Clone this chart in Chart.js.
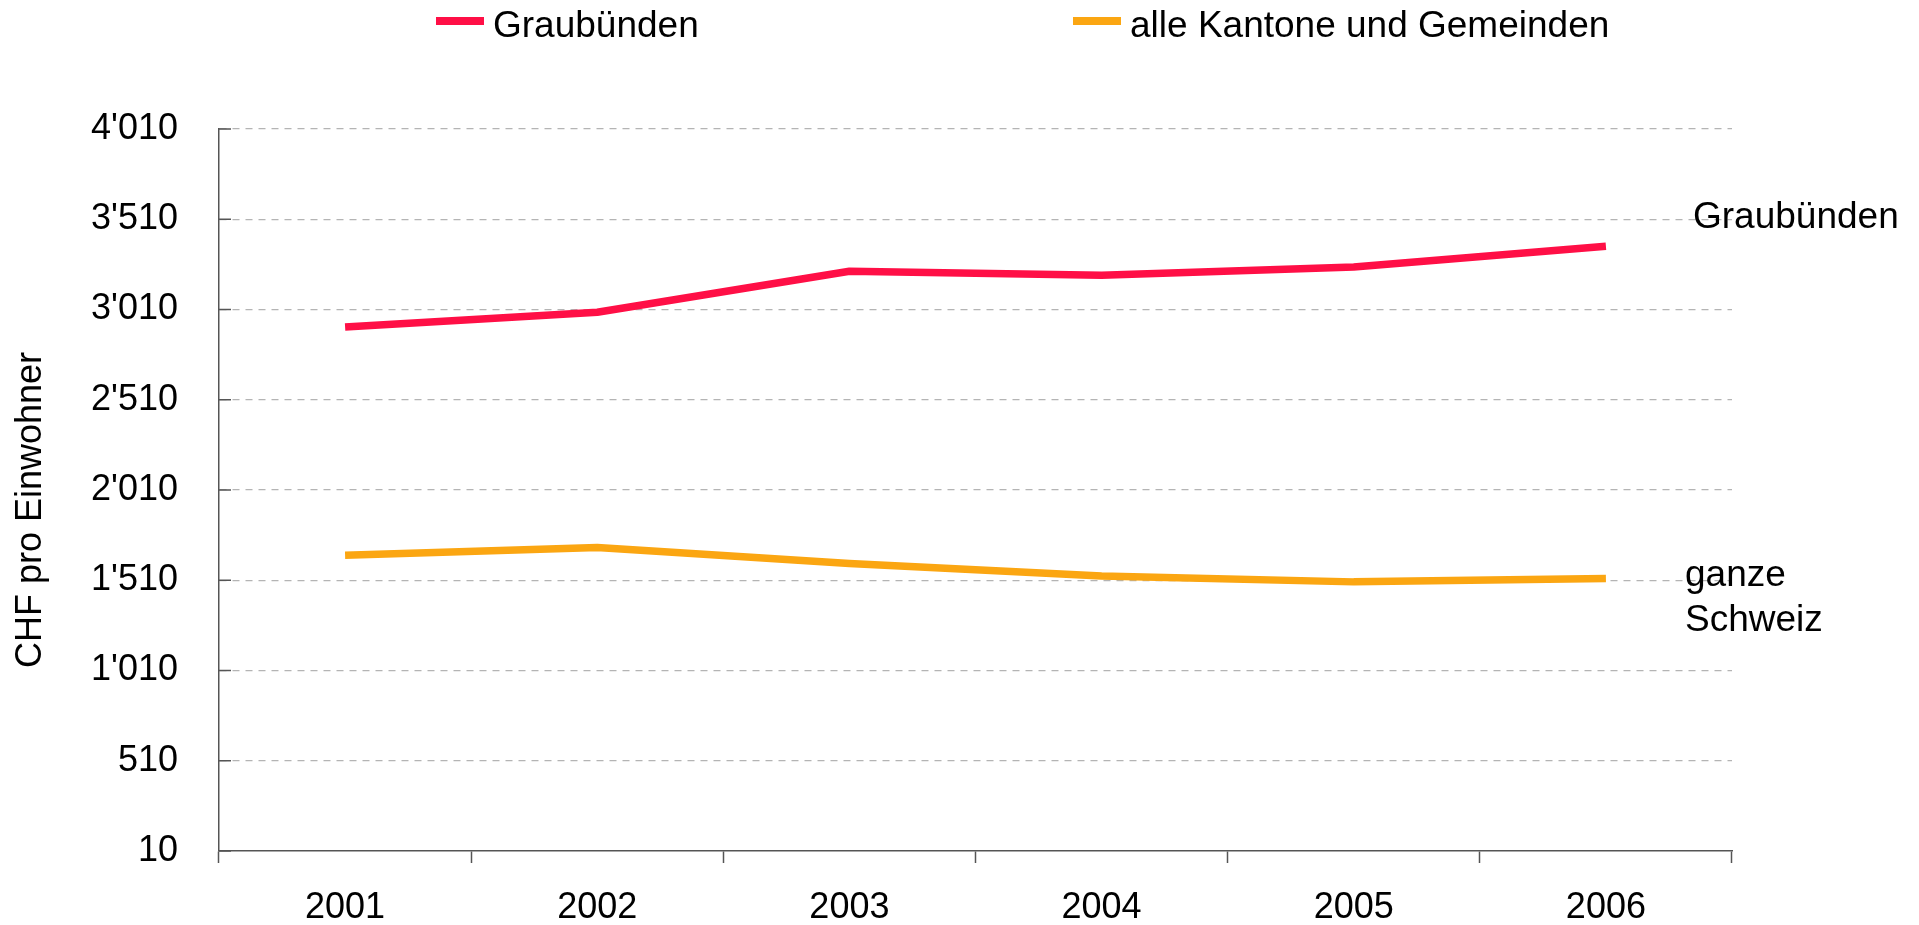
<!DOCTYPE html>
<html><head><meta charset="utf-8">
<script src="https://cdn.jsdelivr.net/npm/chart.js@4/dist/chart.umd.min.js"></script>
<style>html,body{margin:0;padding:0;background:#fff;overflow:hidden}</style>
</head><body>
<canvas id="c" width="1919" height="925"></canvas>
<script>
const years = ['2001', '2002', '2003', '2004', '2005', '2006'];
const graubuenden = [2913, 2995, 3222, 3200, 3246, 3360];
const schweiz = [1649, 1692, 1603, 1533, 1501, 1520];
const seriesLabels = ['Graubünden', 'alle Kantone und Gemeinden'];
const yTicks = [10, 510, 1010, 1510, 2010, 2510, 3010, 3510, 4010];
const yTitle = 'CHF pro Einwohner';
const endLabels = [['Graubünden'], ['ganze', 'Schweiz']];

const FONT = '"Liberation Sans", Arial, sans-serif';
const fmt = v => String(v).replace(/\B(?=(\d{3})+(?!\d))/g, "'");

const decor = {
  id: 'decor',
  afterDraw(chart) {
    const {ctx, chartArea, scales: {x, y}} = chart;
    ctx.save();
    // inner tick marks on the y axis
    ctx.strokeStyle = '#555';
    ctx.lineWidth = 1.5;
    y.ticks.forEach(t => {
      const py = y.getPixelForValue(t.value);
      ctx.beginPath();
      ctx.moveTo(chartArea.left, py);
      ctx.lineTo(chartArea.left + 12, py);
      ctx.stroke();
    });
    // legend
    ctx.font = '37px ' + FONT;
    ctx.textBaseline = 'middle';
    ctx.textAlign = 'left';
    const legendX = [436, 1073];
    chart.data.datasets.forEach((ds, i) => {
      ctx.fillStyle = ds.borderColor;
      ctx.fillRect(legendX[i], 17, 48, 8);
      ctx.fillStyle = '#000';
      ctx.fillText(ds.label, legendX[i] + 57, 27);
    });
    // end labels
    const n = years.length - 1;
    const gy = y.getPixelForValue(graubuenden[n]) - 29;
    ctx.fillText(endLabels[0][0], chartArea.right - 39, gy);
    const sy = y.getPixelForValue(schweiz[n]) - 3;
    endLabels[1].forEach((t, i) => ctx.fillText(t, chartArea.right - 47, sy + i * 45));
    ctx.restore();
  }
};

new Chart(document.getElementById('c'), {
  type: 'line',
  data: {
    labels: years,
    datasets: [
      { label: seriesLabels[0], data: graubuenden, borderColor: '#ff0f46', backgroundColor: '#ff0f46',
        borderWidth: 7.5, pointRadius: 0, tension: 0, borderCapStyle: 'butt', borderJoinStyle: 'round' },
      { label: seriesLabels[1], data: schweiz, borderColor: '#fba612', backgroundColor: '#fba612',
        borderWidth: 7.5, pointRadius: 0, tension: 0, borderCapStyle: 'butt', borderJoinStyle: 'round' }
    ]
  },
  options: {
    responsive: false,
    animation: false,
    layout: { padding: { top: 129, right: 187, left: 0, bottom: 0 } },
    plugins: { legend: { display: false }, tooltip: { enabled: false } },
    scales: {
      x: {
        type: 'category',
        offset: true,
        grid: { offset: true, drawOnChartArea: false, drawTicks: true, tickLength: 12, color: '#555', tickColor: '#555', tickWidth: 1.5 },
        border: { color: '#555', width: 1.5 },
        ticks: { font: { size: 36, family: FONT }, color: '#000', padding: 23, maxRotation: 0 },
        afterFit: s => { s.height = 74; }
      },
      y: {
        min: 10,
        max: 4010,
        afterBuildTicks: s => { s.ticks = yTicks.map(v => ({ value: v })); },
        grid: {
          drawTicks: false,
          lineWidth: 1.2,
          color: c => (c.tick && c.tick.value === yTicks[0]) ? 'rgba(0,0,0,0)' : '#b4b4b4'
        },
        border: { color: '#555', width: 1.5, dash: [7, 6] },
        ticks: { font: { size: 36, family: FONT }, color: '#000', padding: 41, callback: v => fmt(v) },
        title: { display: true, text: yTitle + '    ', font: { size: 36, family: FONT }, color: '#000', padding: { top: 9, bottom: 0 } },
        afterFit: s => { s.width = 219; }
      }
    }
  },
  plugins: [decor]
});
</script>
</body></html>
